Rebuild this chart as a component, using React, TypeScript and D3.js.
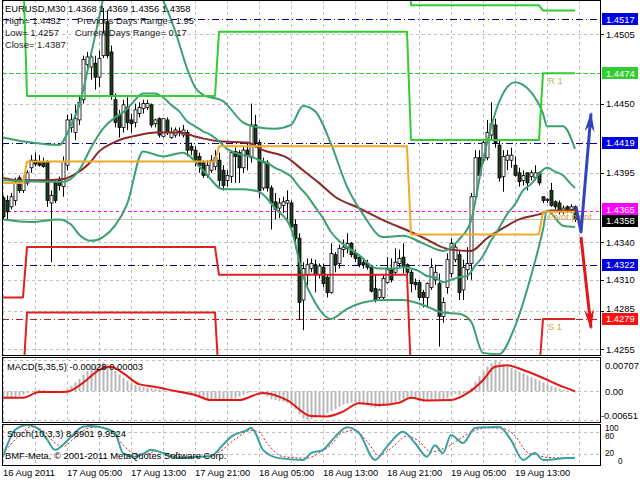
import React from "react";
import * as d3 from "d3";

// ---------- DATA ----------
const open = [1.4375,1.4373,1.4368,1.4373,1.4391,1.4381,1.4387,1.4399,1.4405,1.4404,1.4403,1.4404,1.4371,1.4387,1.4389,1.4384,1.4401,1.4431,1.4427,1.4437,1.4453,1.4481,1.4479,1.4482,1.4471,1.4488,1.4515,1.4491,1.4453,1.4441,1.4431,1.4447,1.4437,1.4435,1.4442,1.4446,1.4447,1.4449,1.4434,1.4438,1.4424,1.4437,1.4423,1.4425,1.4428,1.4425,1.4427,1.4416,1.4413,1.4408,1.4403,1.4393,1.4397,1.4400,1.4405,1.4397,1.4389,1.4392,1.4412,1.4411,1.4399,1.4413,1.4407,1.4433,1.4419,1.4383,1.4403,1.4383,1.4372,1.4367,1.4369,1.4371,1.4371,1.4354,1.4343,1.4294,1.4314,1.4319,1.4322,1.4314,1.4320,1.4312,1.4300,1.4330,1.4323,1.4334,1.4335,1.4339,1.4331,1.4328,1.4324,1.4323,1.4320,1.4303,1.4296,1.4296,1.4308,1.4318,1.4316,1.4323,1.4328,1.4322,1.4316,1.4308,1.4308,1.4300,1.4296,1.4304,1.4310,1.4307,1.4281,1.4304,1.4315,1.4326,1.4330,1.4302,1.4318,1.4323,1.4376,1.4407,1.4405,1.4407,1.4425,1.4433,1.4417,1.4392,1.4405,1.4405,1.4401,1.4395,1.4389,1.4395,1.4392,1.4391,1.4395,1.4376,1.4373,1.4381,1.4372,1.4371,1.4364,1.4368,1.4366,1.4368];
const high = [1.4377,1.4377,1.4379,1.4391,1.4393,1.4392,1.4397,1.4409,1.4411,1.4409,1.4407,1.4405,1.4381,1.4389,1.4392,1.4408,1.4441,1.4442,1.4449,1.4457,1.4488,1.4491,1.4492,1.4488,1.4492,1.4526,1.4524,1.4496,1.4458,1.4445,1.4453,1.4455,1.4442,1.4450,1.4451,1.4453,1.4453,1.4450,1.4438,1.4439,1.4438,1.4439,1.4431,1.4431,1.4431,1.4433,1.4429,1.4419,1.4416,1.4411,1.4405,1.4405,1.4409,1.4413,1.4411,1.4401,1.4397,1.4413,1.4415,1.4413,1.4416,1.4419,1.4450,1.4441,1.4421,1.4407,1.4405,1.4385,1.4379,1.4375,1.4376,1.4381,1.4373,1.4358,1.4347,1.4324,1.4327,1.4327,1.4326,1.4323,1.4323,1.4314,1.4339,1.4332,1.4338,1.4342,1.4347,1.4340,1.4334,1.4330,1.4327,1.4326,1.4322,1.4314,1.4303,1.4314,1.4328,1.4327,1.4335,1.4334,1.4339,1.4323,1.4318,1.4311,1.4310,1.4302,1.4308,1.4327,1.4322,1.4315,1.4296,1.4331,1.4343,1.4339,1.4334,1.4326,1.4336,1.4379,1.4413,1.4413,1.4421,1.4437,1.4451,1.4438,1.4421,1.4413,1.4413,1.4415,1.4408,1.4399,1.4397,1.4395,1.4397,1.4401,1.4396,1.4376,1.4375,1.4387,1.4373,1.4373,1.4369,1.4369,1.4370,1.4369];
const low = [1.4358,1.4358,1.4366,1.4369,1.4379,1.4379,1.4385,1.4395,1.4400,1.4400,1.4399,1.4368,1.4324,1.4371,1.4381,1.4376,1.4397,1.4427,1.4421,1.4433,1.4450,1.4475,1.4469,1.4461,1.4463,1.4486,1.4486,1.4453,1.4431,1.4423,1.4427,1.4429,1.4427,1.4431,1.4439,1.4442,1.4445,1.4431,1.4431,1.4423,1.4423,1.4425,1.4422,1.4423,1.4424,1.4423,1.4408,1.4409,1.4400,1.4395,1.4391,1.4391,1.4395,1.4397,1.4384,1.4381,1.4384,1.4387,1.4387,1.4387,1.4395,1.4397,1.4403,1.4415,1.4375,1.4381,1.4380,1.4350,1.4358,1.4359,1.4363,1.4358,1.4350,1.4335,1.4278,1.4270,1.4306,1.4316,1.4300,1.4311,1.4304,1.4296,1.4299,1.4316,1.4319,1.4328,1.4331,1.4328,1.4324,1.4320,1.4319,1.4318,1.4300,1.4292,1.4294,1.4294,1.4307,1.4308,1.4314,1.4320,1.4315,1.4314,1.4300,1.4302,1.4294,1.4288,1.4288,1.4302,1.4306,1.4257,1.4276,1.4299,1.4312,1.4324,1.4294,1.4294,1.4310,1.4310,1.4373,1.4388,1.4403,1.4405,1.4421,1.4415,1.4388,1.4380,1.4397,1.4399,1.4392,1.4384,1.4385,1.4381,1.4389,1.4389,1.4385,1.4371,1.4371,1.4368,1.4366,1.4362,1.4362,1.4363,1.4363,1.4356];
const close = [1.4360,1.4364,1.4376,1.4388,1.4381,1.4389,1.4395,1.4405,1.4402,1.4401,1.4400,1.4373,1.4377,1.4373,1.4385,1.4404,1.4437,1.4437,1.4438,1.4451,1.4485,1.4487,1.4487,1.4471,1.4486,1.4506,1.4488,1.4457,1.4435,1.4431,1.4449,1.4435,1.4434,1.4445,1.4447,1.4450,1.4450,1.4433,1.4437,1.4425,1.4438,1.4427,1.4427,1.4429,1.4427,1.4429,1.4413,1.4413,1.4405,1.4401,1.4393,1.4401,1.4405,1.4407,1.4389,1.4385,1.4393,1.4411,1.4408,1.4399,1.4413,1.4409,1.4433,1.4419,1.4381,1.4403,1.4383,1.4371,1.4366,1.4371,1.4372,1.4373,1.4352,1.4343,1.4292,1.4319,1.4322,1.4323,1.4314,1.4321,1.4307,1.4300,1.4331,1.4322,1.4335,1.4336,1.4339,1.4330,1.4327,1.4322,1.4322,1.4320,1.4301,1.4294,1.4302,1.4311,1.4318,1.4310,1.4324,1.4327,1.4320,1.4316,1.4307,1.4306,1.4296,1.4296,1.4307,1.4320,1.4316,1.4281,1.4292,1.4326,1.4339,1.4336,1.4300,1.4320,1.4323,1.4376,1.4407,1.4393,1.4419,1.4427,1.4434,1.4419,1.4391,1.4408,1.4409,1.4409,1.4393,1.4388,1.4393,1.4387,1.4395,1.4395,1.4387,1.4373,1.4374,1.4369,1.4368,1.4364,1.4367,1.4366,1.4368,1.4358];

const bbUpper = [[0,1.4423],[7,1.4419],[14,1.4417],[17,1.4433],[19,1.4448],[22,1.4489],[24,1.4518],[26,1.4545],[30,1.4560],[35,1.4556],[38,1.4542],[40,1.4532],[43,1.4508],[46,1.4478],[48,1.4463],[50,1.4457],[55,1.4452],[60,1.4435],[64,1.4431],[68,1.4430],[72,1.4433],[75,1.4448],[78,1.4444],[82,1.4418],[86,1.4384],[90,1.4362],[95,1.4344],[100,1.4345],[105,1.4339],[110,1.4333],[114,1.4342],[117,1.4357],[120,1.4405],[124,1.4451],[128,1.4467],[132,1.4459],[135,1.4442],[136,1.4432],[140,1.4432],[143,1.4414]];
const bbMiddle = [[0,1.4389],[10,1.4388],[15,1.4388],[19,1.4397],[22,1.4415],[25,1.4430],[28,1.4439],[30,1.4443],[32,1.4449],[35,1.4458],[38,1.4458],[40,1.4455],[42,1.4449],[44,1.4444],[46,1.4436],[48,1.4432],[50,1.4428],[52,1.4425],[54,1.4420],[56,1.4414],[58,1.4411],[60,1.4409],[62,1.4408],[64,1.4405],[66,1.4403],[68,1.4399],[70,1.4396],[72,1.4392],[74,1.4384],[76,1.4377],[78,1.4368],[80,1.4359],[82,1.4348],[84,1.4341],[86,1.4336],[88,1.4332],[90,1.4327],[92,1.4321],[94,1.4319],[96,1.4319],[98,1.4319],[100,1.4320],[102,1.4319],[104,1.4317],[106,1.4313],[108,1.4312],[110,1.4308],[112,1.4310],[114,1.4312],[116,1.4313],[118,1.4321],[120,1.4329],[122,1.4341],[124,1.4351],[126,1.4362],[128,1.4370],[130,1.4381],[132,1.4386],[134,1.4394],[136,1.4399],[138,1.4396],[140,1.4393],[142,1.4386],[143,1.4383]];
const bbLower = [[0,1.4358],[7,1.4356],[14,1.4358],[17,1.4354],[19,1.4346],[22,1.4341],[25,1.4344],[28,1.4353],[31,1.4370],[35,1.4412],[40,1.4408],[45,1.4411],[50,1.4397],[55,1.4382],[60,1.4382],[64,1.4380],[68,1.4367],[72,1.4351],[75,1.4313],[78,1.4292],[82,1.4279],[86,1.4287],[90,1.4292],[95,1.4294],[100,1.4294],[105,1.4290],[110,1.4284],[114,1.4283],[117,1.4277],[120,1.4252],[124,1.4251],[128,1.4273],[132,1.4313],[135,1.4350],[136,1.4365],[140,1.4353],[143,1.4352]];
const maSlow = [[0,1.4391],[4,1.4389],[10,1.4389],[15,1.4390],[18,1.4394],[22,1.4404],[24,1.4412],[27,1.4418],[30,1.4422],[34,1.4425],[38,1.4427],[44,1.4427],[49,1.4423],[54,1.4420],[61,1.4419],[65,1.4413],[71,1.4407],[75,1.4397],[79,1.4387],[83,1.4376],[89,1.4367],[96,1.4356],[102,1.4348],[106,1.4342],[109,1.4337],[112,1.4334],[117,1.4333],[121,1.4343],[125,1.4351],[129,1.4358],[134,1.4362],[137,1.4365],[143,1.4365]];

const pivotSegStart = [0, 6, 54, 102, 135];
const pivotLevel = [1.4387, 1.4404, 1.4416, 1.4346, 1.4364];
const r1Level = [1.4560, 1.4456, 1.4507, 1.4421, 1.4474];
const r2Level = [1.4600, 1.4600, 1.4620, 1.4528, 1.4524];
const s1Level = [1.4296, 1.4336, 1.4314, 1.4235, 1.4279];
const s2Level = [1.4230, 1.4284, 1.4230, 1.4200, 1.4220];

const levelPrices = [1.4517, 1.4474, 1.4419, 1.4365, 1.4358, 1.4322, 1.4279];
const priceTicks = [1.4505, 1.4450, 1.4395, 1.4340, 1.4310, 1.4285, 1.4255];

const arrowUp = [[143.25, 1.4368], [144.5, 1.4348], [147, 1.4442]];
const arrowDown = [[144.5, 1.4344], [147, 1.4272]];

const macdMain = [-0.0015,-0.0015,-0.0014,-0.0013,-0.0011,-0.0008,-0.0004,0,0.0003,0.0004,0.0003,0,-0.0001,-0.0001,0,0.0001,0.0005,0.0012,0.0020,0.0028,0.0038,0.0046,0.0052,0.0057,0.0062,0.0065,0.0062,0.0056,0.0046,0.0038,0.0030,0.0024,0.0018,0.0014,0.0011,0.0009,0.0008,0.0007,0.0006,0.0004,0.0003,0.0001,0,-0.0002,-0.0004,-0.0006,-0.0008,-0.0010,-0.0013,-0.0015,-0.0018,-0.0020,-0.0022,-0.0022,-0.0022,-0.0022,-0.0021,-0.0019,-0.0016,-0.0012,-0.0008,-0.0005,-0.0002,0,-0.0004,-0.0008,-0.0012,-0.0018,-0.0020,-0.0022,-0.0024,-0.0027,-0.0032,-0.0040,-0.0052,-0.0062,-0.00651,-0.0063,-0.0060,-0.0058,-0.0055,-0.0050,-0.0045,-0.0040,-0.0035,-0.0030,-0.0028,-0.0026,-0.0026,-0.0028,-0.0030,-0.0032,-0.0035,-0.0037,-0.0036,-0.0033,-0.0030,-0.0027,-0.0024,-0.0021,-0.0019,-0.0015,-0.0012,-0.0015,-0.0022,-0.0025,-0.0024,-0.0021,-0.0018,-0.0022,-0.0021,-0.0016,-0.0010,-0.0006,-0.0008,-0.0005,-0.0002,0.0008,0.0022,0.0034,0.0046,0.0056,0.0064,0.00707,0.0067,0.0062,0.0057,0.0052,0.0048,0.0044,0.0040,0.0036,0.0032,0.0028,0.0024,0.0020,0.0016,0.0012,0.0009,0.0006,0.0003,0.0001,-0.0001,-0.00028];
const macdSignal = [[0,-0.00147],[5,-0.0015],[9,-0.0002],[16,-0.0001],[20,0.0019],[24,0.0048],[27,0.00555],[30,0.0041],[34,0.0016],[38,0.001],[43,0.00005],[48,-0.00086],[52,-0.002],[59,-0.002],[65,-0.0004],[71,-0.002],[77,-0.0056],[81,-0.0057],[85,-0.0046],[89,-0.0027],[94,-0.0031],[99,-0.0026],[102,-0.0015],[106,-0.0021],[112,-0.002],[116,-0.0005],[120,0.0025],[123,0.00555],[126,0.0059],[130,0.0048],[135,0.003],[140,0.001],[143,0.00003]];

const stochMain = [[0,12],[3,86],[6,100],[9,88],[11,60],[13,31],[15,45],[17,67],[20,95],[22,97],[25,92],[28,78],[30,22],[33,12],[35,20],[37,31],[40,22],[44,8],[48,11],[52,14],[55,45],[57,67],[61,86],[62,92],[63,80],[65,31],[69,8],[75,3],[77,22],[80,31],[83,67],[86,94],[89,78],[93,3],[96,40],[100,81],[103,50],[106,12],[108,44],[110,22],[112,72],[115,50],[118,92],[122,94],[124,95],[127,58],[130,3],[133,22],[135,3],[141,8],[143,8.89]];
const stochSignal = [[0,20],[4,70],[7,95],[10,85],[13,50],[15,40],[18,65],[21,90],[24,95],[27,85],[30,45],[33,20],[36,20],[38,27],[42,18],[46,10],[50,12],[54,25],[58,60],[62,85],[64,80],[66,50],[70,12],[76,8],[79,22],[82,45],[85,80],[88,85],[91,55],[94,15],[98,45],[101,70],[104,55],[107,25],[109,30],[112,45],[114,60],[117,80],[121,92],[125,90],[128,70],[131,25],[134,15],[136,10],[141,8],[143,9.95]];

const dateLabels = ["16 Aug 2011","17 Aug 05:00","17 Aug 13:00","17 Aug 21:00","18 Aug 05:00","18 Aug 13:00","18 Aug 21:00","19 Aug 05:00","19 Aug 13:00"];
const dateLabelBars = [0, 16, 32, 48, 64, 80, 96, 112, 128];
const gridBars = [0, 8, 16, 24, 32, 40, 48, 56, 64, 72, 80, 88, 96, 104, 112, 120, 128, 136, 144];

const infoValues = { high: "1.4452", low: "1.4257", close: "1.4387", prevRange: "1.95", curRange: "0.17" };
const macdLabel = "MACD(5,35,5) -0.00028 0.00003";
const stochLabel = "Stoch(10,3,3) 8.8901 9.9524";

// ---------- STYLE ----------
const FONT = "'Liberation Sans', Arial, sans-serif";
const FS = 9.4;
const levelStyles = [
  { stroke: "#000080", dash: "7,3,1,3", box: "#0000E0", nudge: 0 },
  { stroke: "#32CD32", dash: "5,2", box: "#32CD32", nudge: 0 },
  { stroke: "#000080", dash: "7,3,1,3", box: "#0000E0", nudge: 0 },
  { stroke: "#FF00FF", dash: "3,3", box: "#FF00FF", nudge: -1.5 },
  { stroke: "#C0C0C0", dash: null, box: "#000000", nudge: 1.5 },
  { stroke: "#000080", dash: "7,3,1,3", box: "#0000E0", nudge: 0 },
  { stroke: "#B22222", dash: "7,3,1,3", box: "#FF1010", nudge: 0 },
];

const PL = 2, PR = 600;
const MAIN_T = 0, MAIN_B = 355;
const MACD_T = 357, MACD_B = 422;
const ST_T = 424, ST_B = 465;

export default function App() {
  const x = d3.scaleLinear().domain([0, 143]).range([3, 575]);
  const y = d3.scaleLinear().domain([1.4255, 1.4505]).range([349.1, 34.3]);
  const ym = d3.scaleLinear().domain([-0.00651, 0.00707]).range([420, 360]);
  const ys = d3.scaleLinear().domain([0, 100]).range([461, 425]);

  const bars = d3.range(open.length);
  const segValue = (levels: number[], i: number) => {
    let v = levels[0];
    pivotSegStart.forEach((s, k) => { if (i >= s) v = levels[k]; });
    return v;
  };
  const stepPath = (levels: number[]) =>
    d3.line<number>().x((i) => x(i)).y((i) => y(segValue(levels, i)))(bars) || "";
  const curve = (pts: number[][], ys_: (v: number) => number) =>
    d3.line<number[]>().x((d) => x(d[0])).y((d) => ys_(d[1])).curve(d3.curveMonotoneX)(pts) || "";
  const poly = (pts: number[][]) =>
    d3.line<number[]>().x((d) => x(d[0])).y((d) => y(d[1]))(pts) || "";

  const txt = (props: any, s: string) => (
    <text fontFamily={FONT} fontSize={FS} {...props}>{s}</text>
  );

  return (
    <svg width={640} height={480} style={{ position: "absolute", left: 0, top: 0, background: "#fff" }}>
      <defs>
        <clipPath id="cm"><rect x={PL} y={MAIN_T} width={PR - PL} height={MAIN_B - MAIN_T} /></clipPath>
        <clipPath id="cd"><rect x={PL} y={MACD_T} width={PR - PL} height={MACD_B - MACD_T} /></clipPath>
        <clipPath id="cs"><rect x={PL} y={ST_T} width={PR - PL} height={ST_B - ST_T} /></clipPath>
        <marker id="ahB" markerUnits="userSpaceOnUse" markerWidth="22" markerHeight="12" refX="18" refY="5" orient="auto">
          <path d="M0,0 L20,5 L0,10 L6,5 z" fill="#3344BB" />
        </marker>
        <marker id="ahR" markerUnits="userSpaceOnUse" markerWidth="22" markerHeight="12" refX="18" refY="5" orient="auto">
          <path d="M0,0 L20,5 L0,10 L6,5 z" fill="#E01818" />
        </marker>
      </defs>
      <rect x={0} y={0} width={640} height={480} fill="#fff" />

      {/* grid */}
      <g stroke="#C0C0C0" strokeDasharray="3,3" strokeWidth={1}>
        {gridBars.map((b) => (
          <g key={b}>
            <line x1={Math.round(x(b)) + 0.5} x2={Math.round(x(b)) + 0.5} y1={MAIN_T} y2={MAIN_B} />
            <line x1={Math.round(x(b)) + 0.5} x2={Math.round(x(b)) + 0.5} y1={MACD_T} y2={MACD_B} />
            <line x1={Math.round(x(b)) + 0.5} x2={Math.round(x(b)) + 0.5} y1={ST_T} y2={ST_B} />
          </g>
        ))}
        {priceTicks.map((p) => (
          <line key={p} x1={PL} x2={PR} y1={Math.round(y(p)) + 0.5} y2={Math.round(y(p)) + 0.5} />
        ))}
        {[ym.domain()[1], 0, ym.domain()[0]].map((v) => (
          <line key={v} x1={PL} x2={PR} y1={Math.round(ym(v)) + 0.5} y2={Math.round(ym(v)) + 0.5} />
        ))}
        {[80, 20].map((v) => (
          <line key={v} x1={PL} x2={PR} y1={Math.round(ys(v)) + 0.5} y2={Math.round(ys(v)) + 0.5} />
        ))}
      </g>

      {/* level lines */}
      <g clipPath="url(#cm)">
        {levelPrices.map((p, k) => (
          <line key={p} x1={PL} x2={PR} y1={Math.round(y(p)) + 0.5} y2={Math.round(y(p)) + 0.5}
            stroke={levelStyles[k].stroke} strokeWidth={1}
            strokeDasharray={levelStyles[k].dash || undefined} />
        ))}
      </g>

      {/* candles */}
      <g clipPath="url(#cm)">
        {bars.map((i) => {
          const cx = Math.round(x(i));
          const yo = y(open[i]), yc = y(close[i]);
          const top = Math.min(yo, yc), bot = Math.max(yo, yc);
          const bull = close[i] >= open[i];
          return (
            <g key={i}>
              <line x1={cx + 0.5} x2={cx + 0.5} y1={y(high[i])} y2={y(low[i])} stroke="#000" strokeWidth={1} />
              <rect x={cx - 1} y={top} width={3} height={Math.max(1, bot - top)}
                fill={bull ? "#fff" : "#1E3C1E"} stroke="#000" strokeWidth={0.8} />
            </g>
          );
        })}
      </g>

      {/* indicators main */}
      <g clipPath="url(#cm)" fill="none" strokeLinejoin="round">
        <path d={curve(maSlow, y)} stroke="#8B2828" strokeWidth={2} />
        <path d={curve(bbUpper, y)} stroke="#3CA070" strokeWidth={2} />
        <path d={curve(bbMiddle, y)} stroke="#3CA070" strokeWidth={2} />
        <path d={curve(bbLower, y)} stroke="#3CA070" strokeWidth={2} />
        <path d={stepPath(r2Level)} stroke="#33CC33" strokeWidth={2} />
        <path d={stepPath(r1Level)} stroke="#33CC33" strokeWidth={2} />
        <path d={stepPath(pivotLevel)} stroke="#F0AA28" strokeWidth={2} />
        <path d={stepPath(s1Level)} stroke="#DD2020" strokeWidth={2} />
        <path d={stepPath(s2Level)} stroke="#DD2020" strokeWidth={2} />
        {txt({ x: x(136) + 1, y: y(r1Level[4]) + 11, fill: "#A8C050" }, "R 1")}
        {txt({ x: x(136) + 1, y: y(pivotLevel[4]) + 8, fill: "#E0A040" }, "Pivot point")}
        {txt({ x: x(136) + 1, y: y(s1Level[4]) + 11, fill: "#E0A040" }, "S 1")}
        <path d={poly(arrowUp)} stroke="#3344BB" strokeWidth={3} markerEnd="url(#ahB)" />
        <path d={poly(arrowDown)} stroke="#E01818" strokeWidth={3} markerEnd="url(#ahR)" />
      </g>

      {/* macd */}
      <g clipPath="url(#cd)">
        {macdMain.map((v, i) => (
          <rect key={i} x={Math.round(x(i)) - 0.5} width={2}
            y={Math.min(ym(v), ym(0))} height={Math.abs(ym(v) - ym(0))} fill="#B8B8B8" />
        ))}
        <path d={curve(macdSignal, ym)} fill="none" stroke="#E01818" strokeWidth={2} />
      </g>

      {/* stoch */}
      <g clipPath="url(#cs)" fill="none">
        <path d={curve(stochSignal, ys)} stroke="#E01818" strokeWidth={1} strokeDasharray="2,2" />
        <path d={curve(stochMain, ys)} stroke="#3AA0A0" strokeWidth={2} />
      </g>

      {/* panel borders */}
      <g fill="none" stroke="#000" strokeWidth={1}>
        <rect x={PL + 0.5} y={MAIN_T + 0.5} width={PR - PL} height={MAIN_B - MAIN_T} />
        <rect x={PL + 0.5} y={MACD_T + 0.5} width={PR - PL} height={MACD_B - MACD_T} />
        <rect x={PL + 0.5} y={ST_T + 0.5} width={PR - PL} height={ST_B - ST_T} />
      </g>

      {/* price axis */}
      {priceTicks.map((p) => (
        <g key={p}>
          <line x1={PR} x2={PR + 4} y1={Math.round(y(p)) + 0.5} y2={Math.round(y(p)) + 0.5} stroke="#000" />
          {txt({ x: 606, y: y(p) + (p === 1.4285 ? 1 : 3.5), fill: "#000" }, p.toFixed(4))}
        </g>
      ))}
      {levelPrices.map((p, k) => (
        <g key={p}>
          <rect x={602} y={Math.round(y(p) + levelStyles[k].nudge) - 6} width={36} height={12} fill={levelStyles[k].box} />
          {txt({ x: 606, y: y(p) + levelStyles[k].nudge + 3.5, fill: "#fff" }, p.toFixed(4))}
        </g>
      ))}

      {/* macd axis */}
      {txt({ x: 605, y: ym(ym.domain()[1]) + 9, fill: "#000" }, ym.domain()[1].toFixed(5))}
      {txt({ x: 605, y: ym(0) + 3.5, fill: "#000" }, "0.00")}
      {txt({ x: 601, y: ym(ym.domain()[0]) - 1.5, fill: "#000" }, ym.domain()[0].toFixed(5))}
      {/* stoch axis */}
      <text fontFamily={FONT} fontSize={8.2} x={605} y={ys(100) + 5.5} fill="#000">100</text>
      <text fontFamily={FONT} fontSize={8.2} x={605} y={ys(80) + 7.2} fill="#000">80</text>
      <text fontFamily={FONT} fontSize={8.2} x={605} y={ys(20) + 2.5} fill="#000">20</text>
      <text fontFamily={FONT} fontSize={8.2} x={618} y={ys(0) + 3} fill="#000">0</text>

      {/* date axis */}
      {dateLabels.map((s, k) => (
        <g key={s}>
          {txt({ x: Math.round(x(dateLabelBars[k])), y: 476, fill: "#000" }, s)}
        </g>
      ))}

      {/* info texts */}
      {txt({ x: 5, y: 12, fill: "#000" },
        `EURUSD,M30  ${open[143].toFixed(4)} ${high[143].toFixed(4)} ${low[143].toFixed(4)} ${close[143].toFixed(4)}`)}
      {txt({ x: 5, y: 24, fill: "#222" }, `High= ${infoValues.high}`)}
      {txt({ x: 77, y: 24, fill: "#222" }, `Previous Days Range= ${infoValues.prevRange}`)}
      {txt({ x: 5, y: 36, fill: "#222" }, `Low= ${infoValues.low}`)}
      {txt({ x: 75, y: 36, fill: "#222" }, `Current Days Range= ${infoValues.curRange}`)}
      {txt({ x: 5, y: 48, fill: "#222" }, `Close= ${infoValues.close}`)}
      {txt({ x: 7, y: 370, fill: "#000" }, macdLabel)}
      {txt({ x: 7, y: 437, fill: "#000" }, stochLabel)}
      {txt({ x: 5, y: 459, fill: "#000" }, "BMF-Meta, © 2001-2011 MetaQuotes Software Corp.")}
    </svg>
  );
}
